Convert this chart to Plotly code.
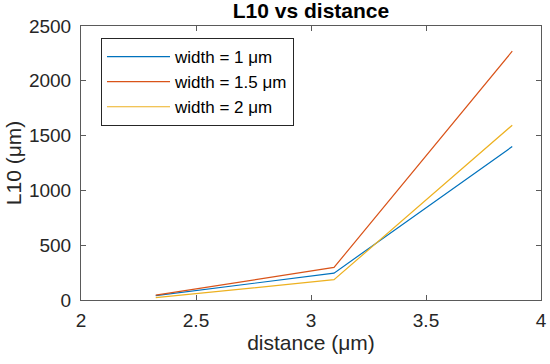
import plotly.graph_objects as go

distance = [2.325, 3.1, 3.875]
l10_w1 = [40, 245, 1400]
l10_w15 = [45, 297, 2270]
l10_w2 = [21, 185, 1595]
names = ["width = 1 μm", "width = 1.5 μm", "width = 2 μm"]
colors = ["#0072BD", "#D95319", "#EDB120"]
x_ticks = [2, 2.5, 3, 3.5, 4]
x_tick_labels = ["2", "2.5", "3", "3.5", "4"]
y_ticks = [0, 500, 1000, 1500, 2000, 2500]

W, H = 550, 364
L, T, R, B = 81, 26, 9, 64

font = "Liberation Sans, Arial, Helvetica, sans-serif"
fig = go.Figure()
for ys, nm, c in zip([l10_w1, l10_w15, l10_w2], names, colors):
    fig.add_trace(go.Scatter(x=distance, y=ys, mode="lines", name=nm,
                             line=dict(color=c, width=1.2)))

axis_common = dict(showgrid=False, zeroline=False, showline=True, linecolor="#5a5a5a",
                   linewidth=1, mirror="ticks", ticks="inside", ticklen=5,
                   tickcolor="#5a5a5a", automargin=False,
                   tickfont=dict(family=font, size=19, color="#262626"))
plot_h = H - T - B
fig.update_layout(
    width=W, height=H,
    margin=dict(l=L, r=R, t=T, b=B),
    paper_bgcolor="white", plot_bgcolor="white",
    title=dict(text="<b>L10 vs distance</b>", x=(L + W - R) / 2 / W, xanchor="center",
               y=1 - 11 / H, yanchor="middle",
               font=dict(family=font, size=21, color="black")),
    xaxis=dict(range=[2, 4], tickvals=x_ticks, ticktext=x_tick_labels,
               ticklabelstandoff=3,
               title=dict(text="distance (μm)", font=dict(family=font, size=21, color="#262626"),
                          standoff=0), **axis_common),
    yaxis=dict(range=[0, 2500], tickvals=y_ticks, ticklabelstandoff=5,
               title=dict(text="L10 (μm)", font=dict(family=font, size=21, color="#262626"),
                          standoff=1), **axis_common),
    legend=dict(x=(101 - L) / (W - L - R), y=(H - B - 38) / plot_h,
                xanchor="left", yanchor="top",
                bordercolor="#262626", borderwidth=1, bgcolor="white",
                font=dict(family=font, size=17, color="black"),
                itemwidth=63, tracegroupgap=0),
    showlegend=True,
)
fig.write_html("out.html", config={"displayModeBar": False},
               post_script="document.body.style.margin='0px';document.body.style.overflow='hidden';")
